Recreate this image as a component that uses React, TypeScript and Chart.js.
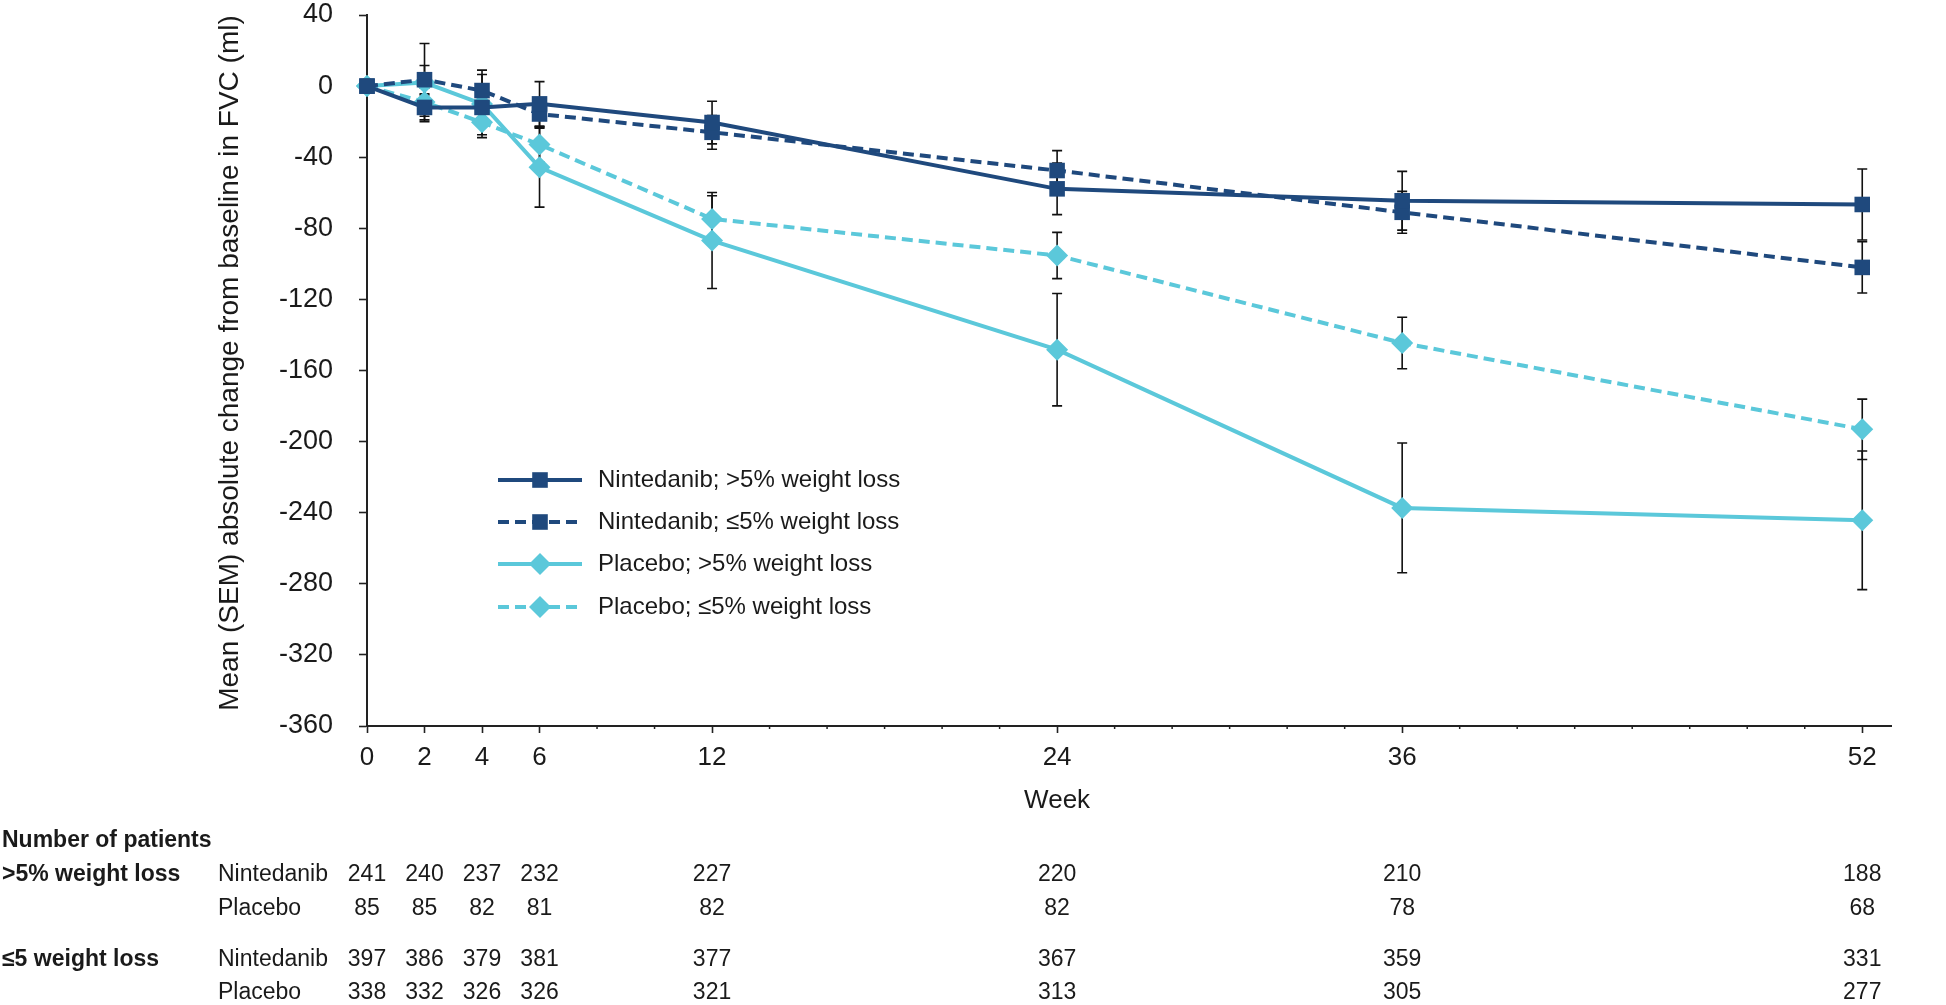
import React, { useEffect, useRef } from 'react';
import { Chart, registerables } from 'chart.js';

Chart.register(...registerables);

// ---- data ----
const weeks = [0, 2, 4, 6, 12, 24, 36, 52];
const labeledWeeks = [0, 2, 4, 6, 12, 24, 36, 52];

const nintGt5 = [0, -12, -12, -10, -20.5, -57.8, -64.5, -66.6];
const nintGt5Sem = [0, 7, 8, 12.5, 12, 14.5, 16.5, 20];
const nintLe5 = [0, 3.6, -2.5, -15.7, -26, -47.5, -71, -102];
const nintLe5Sem = [0, 8, 9, 8, 9.5, 11.2, 11.8, 14.4];
const plcGt5 = [0, 2, -10, -45.7, -86.9, -148.3, -237.3, -244.3];
const plcGt5Sem = [0, 22, 19, 22.4, 27, 31.6, 36.5, 39];
const plcLe5 = [0, -9, -20.4, -32.9, -74.7, -95.3, -144.5, -193.1];
const plcLe5Sem = [0, 8, 7, 10, 13, 13, 14.5, 17];

const seriesLabels = [
  'Nintedanib; >5% weight loss',
  'Nintedanib; ≤5% weight loss',
  'Placebo; >5% weight loss',
  'Placebo; ≤5% weight loss',
];

const yAxisTitle = 'Mean (SEM) absolute change from baseline in FVC (ml)';
const xAxisTitle = 'Week';

const tableTitle = 'Number of patients';
const groupLabels = ['>5% weight loss', '≤5 weight loss'];
const armLabels = ['Nintedanib', 'Placebo'];
const nGt5Nint = [241, 240, 237, 232, 227, 220, 210, 188];
const nGt5Plc = [85, 85, 82, 81, 82, 82, 78, 68];
const nLe5Nint = [397, 386, 379, 381, 377, 367, 359, 331];
const nLe5Plc = [338, 332, 326, 326, 321, 313, 305, 277];

// ---- styles ----
const DARK = '#1F497D';
const CYAN = '#5BC8DA';
const TEXT = '#1a1a1a';
const FONT = '"Liberation Sans", Arial, sans-serif';

const seriesStyle = [
  { color: DARK, dash: [] as number[], marker: 'rect' },
  { color: DARK, dash: [11, 6], marker: 'rect' },
  { color: CYAN, dash: [] as number[], marker: 'rectRot' },
  { color: CYAN, dash: [11, 6], marker: 'rectRot' },
];
const seriesValues = [nintGt5, nintLe5, plcGt5, plcLe5];
const seriesSems = [nintGt5Sem, nintLe5Sem, plcGt5Sem, plcLe5Sem];

function drawMarker(ctx: CanvasRenderingContext2D, kind: string, x: number, y: number, color: string) {
  ctx.save();
  ctx.fillStyle = color;
  ctx.beginPath();
  if (kind === 'rect') {
    const h = 7.8;
    ctx.rect(x - h, y - h, 2 * h, 2 * h);
  } else {
    const r = 11;
    ctx.moveTo(x - r, y);
    ctx.lineTo(x, y - r);
    ctx.lineTo(x + r, y);
    ctx.lineTo(x, y + r);
    ctx.closePath();
  }
  ctx.fill();
  ctx.restore();
}

const customPlugin = {
  id: 'customDecor',
  beforeDatasetsDraw(chart: any) {
    const ctx = chart.ctx as CanvasRenderingContext2D;
    const xs = chart.scales.x;
    const ys = chart.scales.y;
    ctx.save();
    ctx.strokeStyle = '#111';
    ctx.lineWidth = 1.6;
    seriesValues.forEach((vals, si) => {
      const sems = seriesSems[si];
      vals.forEach((v, i) => {
        const s = sems[i];
        if (!s) return;
        const px = xs.getPixelForValue(weeks[i]);
        const top = ys.getPixelForValue(v + s);
        const bot = ys.getPixelForValue(v - s);
        ctx.beginPath();
        ctx.moveTo(px, top);
        ctx.lineTo(px, bot);
        ctx.moveTo(px - 5, top);
        ctx.lineTo(px + 5, top);
        ctx.moveTo(px - 5, bot);
        ctx.lineTo(px + 5, bot);
        ctx.stroke();
      });
    });
    ctx.restore();
  },
  afterDraw(chart: any) {
    const ctx = chart.ctx as CanvasRenderingContext2D;
    const xs = chart.scales.x;
    const area = chart.chartArea;
    ctx.save();

    // minor x ticks
    ctx.strokeStyle = '#222';
    ctx.lineWidth = 1.5;
    for (let w = 0; w <= 52; w += 2) {
      if (labeledWeeks.includes(w)) continue;
      const px = xs.getPixelForValue(w);
      ctx.beginPath();
      ctx.moveTo(px, area.bottom);
      ctx.lineTo(px, area.bottom + 3);
      ctx.stroke();
    }

    // y title
    ctx.fillStyle = TEXT;
    ctx.font = `28px ${FONT}`;
    ctx.textAlign = 'center';
    ctx.textBaseline = 'middle';
    ctx.save();
    ctx.translate(230, 363);
    ctx.rotate(-Math.PI / 2);
    ctx.fillText(yAxisTitle, 0, 0);
    ctx.restore();

    // x title
    ctx.font = `26px ${FONT}`;
    ctx.fillText(xAxisTitle, xs.getPixelForValue(24), 801);

    // legend
    const legY = [480, 522, 564, 607];
    seriesLabels.forEach((lab, i) => {
      const st = seriesStyle[i];
      const y = legY[i];
      ctx.save();
      ctx.strokeStyle = st.color;
      ctx.lineWidth = 4;
      ctx.setLineDash(st.dash);
      ctx.beginPath();
      ctx.moveTo(498, y);
      ctx.lineTo(582, y);
      ctx.stroke();
      ctx.restore();
      drawMarker(ctx, st.marker, 540, y, st.color);
      ctx.fillStyle = TEXT;
      ctx.font = `24px ${FONT}`;
      ctx.textAlign = 'left';
      ctx.textBaseline = 'middle';
      ctx.fillText(lab, 598, y);
    });

    // table
    ctx.fillStyle = TEXT;
    ctx.textBaseline = 'middle';
    ctx.textAlign = 'left';
    ctx.font = `bold 23px ${FONT}`;
    ctx.fillText(tableTitle, 2, 841);
    ctx.fillText(groupLabels[0], 2, 875);
    ctx.fillText(groupLabels[1], 2, 960);
    ctx.font = `23px ${FONT}`;
    const rows = [
      { y: 875, arm: armLabels[0], vals: nGt5Nint },
      { y: 909, arm: armLabels[1], vals: nGt5Plc },
      { y: 960, arm: armLabels[0], vals: nLe5Nint },
      { y: 993, arm: armLabels[1], vals: nLe5Plc },
    ];
    rows.forEach((r) => {
      ctx.textAlign = 'left';
      ctx.fillText(r.arm, 218, r.y);
      ctx.textAlign = 'center';
      r.vals.forEach((n, i) => {
        ctx.fillText(String(n), xs.getPixelForValue(weeks[i]), r.y);
      });
    });

    ctx.restore();
  },
};

export default function App() {
  const canvasRef = useRef<HTMLCanvasElement | null>(null);

  useEffect(() => {
    const canvas = canvasRef.current;
    if (!canvas) return;
    const datasets = seriesLabels.map((lab, si) => ({
      label: lab,
      data: weeks.map((w, i) => ({ x: w, y: seriesValues[si][i] })),
      borderColor: seriesStyle[si].color,
      backgroundColor: seriesStyle[si].color,
      borderWidth: 4,
      borderDash: seriesStyle[si].dash,
      pointStyle: seriesStyle[si].marker,
      pointRadius: seriesStyle[si].marker === 'rect' ? 11 : 11,
      pointBorderWidth: 0,
      pointBackgroundColor: seriesStyle[si].color,
      pointBorderColor: seriesStyle[si].color,
      tension: 0,
      fill: false,
      clip: false,
    }));

    const chart = new Chart(canvas, {
      type: 'line',
      data: { datasets },
      options: {
        responsive: false,
        animation: false,
        layout: { autoPadding: false, padding: { top: 15, right: 55, left: 0, bottom: 0 } },
        plugins: {
          legend: { display: false },
          tooltip: { enabled: false },
        },
        scales: {
          x: {
            type: 'linear',
            min: 0,
            max: 53,
            afterFit: (s: any) => { s.height = 279; s.paddingLeft = 0; s.paddingRight = 0; },
            border: { display: true, color: '#222', width: 2 },
            grid: {
              drawOnChartArea: false,
              drawTicks: true,
              tickLength: 7,
              tickWidth: 1.6,
              tickColor: (c: any) => (labeledWeeks.includes(c.tick?.value) ? '#222' : 'rgba(0,0,0,0)'),
            },
            ticks: {
              stepSize: 2,
              includeBounds: false,
              autoSkip: false,
              maxRotation: 0,
              padding: 9,
              color: TEXT,
              font: { family: FONT, size: 26 },
              callback: (v: any) => (labeledWeeks.includes(Number(v)) ? String(v) : ''),
            },
          },
          y: {
            type: 'linear',
            min: -360,
            max: 40,
            afterFit: (s: any) => { s.width = 367; s.paddingTop = 0; s.paddingBottom = 0; },
            border: { display: true, color: '#222', width: 2 },
            grid: {
              drawOnChartArea: false,
              drawTicks: true,
              tickLength: 8,
              tickWidth: 1.6,
              tickColor: '#222',
            },
            ticks: {
              stepSize: 40,
              padding: 26,
              color: TEXT,
              font: { family: FONT, size: 27, lineHeight: 1.1 },
            },
          },
        },
      },
      plugins: [customPlugin],
    } as any);

    return () => chart.destroy();
  }, []);

  return (
    <div style={{ position: 'fixed', left: 0, top: 0, width: 1946, height: 1005, background: '#fff' }}>
      <canvas ref={canvasRef} width={1946} height={1005} style={{ width: 1946, height: 1005, display: 'block' }} />
    </div>
  );
}
